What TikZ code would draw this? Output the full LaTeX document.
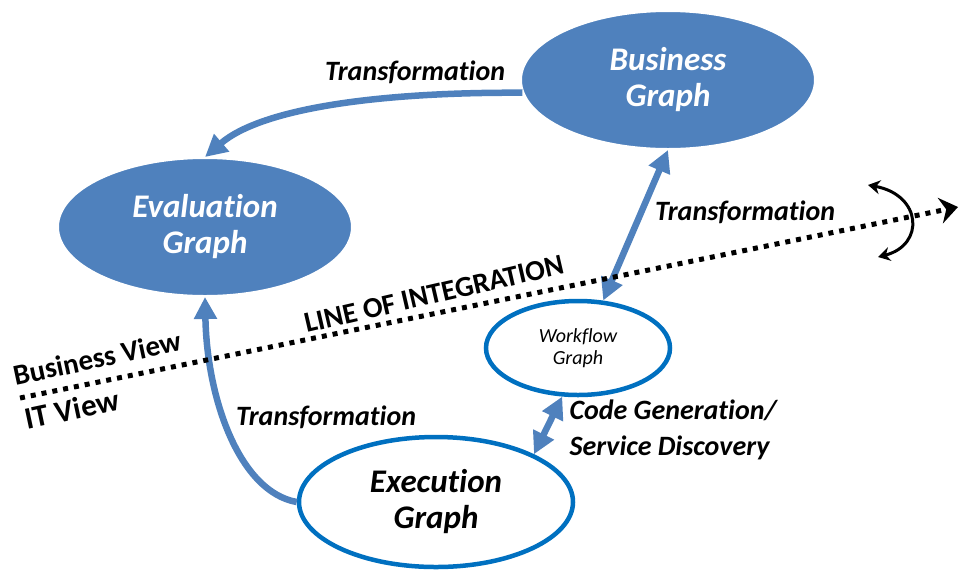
\documentclass[tikz,border=0pt]{standalone}
\usepackage{fontspec}
\setmainfont{Carlito}[Ligatures=NoCommon]
\usetikzlibrary{shapes.geometric, arrows.meta, positioning}
\definecolor{graphblue}{HTML}{4F81BD}
\definecolor{lineblue}{HTML}{0070C0}

\begin{document}
\begin{tikzpicture}[
      x=1pt, y=-1pt,
      filled graph/.style={ellipse, fill=graphblue, draw=white, line width=2pt,
        text=white, align=center, inner sep=0pt,
        font=\bfseries\itshape\fontsize{33}{36}\selectfont},
      open graph/.style={ellipse, fill=white, draw=lineblue, line width=4.5pt,
        align=center, inner sep=0pt},
      flow/.style={draw=graphblue, line width=6.5pt,
        -{Triangle[length=22pt,width=22pt]}},
      both flow/.style={flow,
        {Triangle[length=22pt,width=22pt]}-{Triangle[length=22pt,width=22pt]}},
      lbl/.style={font=\bfseries\itshape\fontsize{28}{34}\selectfont},
      view/.style={font=\bfseries\fontsize{29}{34}\selectfont, rotate=12}
    ]
    \useasboundingbox (0,0) rectangle (965,574);

    % graphs
    \node[filled graph, minimum width=294pt, minimum height=138pt] (biz) at (668,80) {Business\\Graph};
    \node[filled graph, minimum width=294pt, minimum height=138pt] (eval) at (205,227) {Evaluation\\Graph};
    \node[open graph, minimum width=184pt, minimum height=94pt,
      font=\itshape\fontsize{20}{22}\selectfont] (wf) at (578,348) {Workflow\\Graph};
    \node[open graph, minimum width=274pt, minimum height=130pt,
      font=\bfseries\itshape\fontsize{33}{36}\selectfont] (exec) at (436,502) {Execution\\Graph};

    % transformations
    \draw[flow] (biz.185) .. controls (380,92) and (262,108) .. (eval.north);
    \draw[flow] (exec.west) .. controls (240,492) and (207,400) .. (eval.south);
    \draw[both flow] (biz.south) -- (wf.62);
    \draw[both flow] (wf.252) -- (exec.26);

    \node[lbl] (tTop) at (415,72) {Transformation};
    \node[lbl] (tRight) at (745,212) {Transformation};
    \node[lbl] (tLow) at (326,417) {Transformation};
    \node[lbl, align=left, anchor=west, font=\bfseries\itshape\fontsize{28}{36}\selectfont]
      (codeGen) at (566,430) {Code Generation/\\Service Discovery};

    % line of integration
    \coordinate (lineStart) at (20,398);
    \coordinate (lineEnd) at (958,207);
    \draw[line width=5pt, dash pattern=on 5pt off 6pt,
      -{Stealth[length=18pt,width=26pt,inset=6pt]}] (lineStart) -- (lineEnd);
    \coordinate (turnTop) at (868,185);
    \coordinate (turnBottom) at (878,257);
    \draw[line width=3pt, {Stealth[length=12pt,width=14pt]}-{Stealth[length=12pt,width=14pt]}]
      (turnTop) .. controls (922,195) and (925,245) .. (turnBottom);

    \node[view, rotate=1] (loi) at (434,294) {LINE OF INTEGRATION};
    \node[view] (bizView) at (97,358) {Business View};
    \node[view, font=\bfseries\fontsize{31}{36}\selectfont] (itView) at (72,409) {IT View};
\end{tikzpicture}
\end{document}
